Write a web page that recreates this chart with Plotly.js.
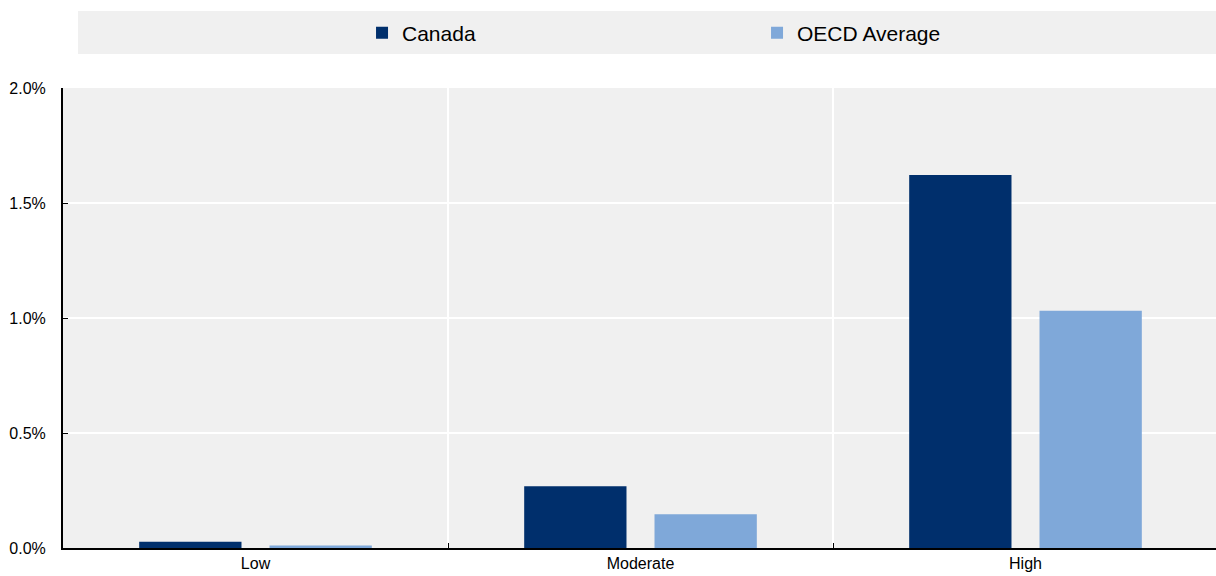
<!DOCTYPE html>
<html>
<head>
<meta charset="utf-8">
<script src="https://cdn.plot.ly/plotly-3.0.1.min.js"></script>
<style>
  html, body { margin: 0; padding: 0; background: #ffffff; overflow: hidden; }
  #chart { width: 1218px; height: 576px; }
</style>
</head>
<body>
<div id="chart"></div>
<script>
// Share by exposure level (%)
var categories = ["Low", "Moderate", "High"];
var canadaValues = [0.027, 0.268, 1.622];
var oecdValues = [0.011, 0.147, 1.032];
var seriesNames = ["Canada", "OECD Average"];
var yTicks = [0, 0.5, 1.0, 1.5, 2.0];

var FONT = '"Liberation Sans Narrow", "Arial Narrow", "Liberation Sans", Arial, sans-serif';

var traces = [
  {
    type: "bar",
    name: seriesNames[0],
    x: categories,
    y: canadaValues,
    marker: { color: "#002f6c" },
    hoverinfo: "x+y+name"
  },
  {
    type: "bar",
    name: seriesNames[1],
    x: categories,
    y: oecdValues,
    marker: { color: "#7fa8d9" },
    hoverinfo: "x+y+name"
  }
];

var layout = {
  width: 1218,
  height: 576,
  margin: { l: 63, r: 0, t: 88, b: 28, pad: 0 },
  paper_bgcolor: "#ffffff",
  plot_bgcolor: "#f0f0f0",
  font: { family: FONT, size: 16, color: "#000000" },
  barmode: "group",
  bargap: 0.323,
  bargroupgap: 0.215,
  showlegend: true,
  legend: {
    orientation: "h",
    x: 0.2589,
    xanchor: "left",
    y: 1.1196,
    yanchor: "middle",
    bgcolor: "rgba(0,0,0,0)",
    borderwidth: 0,
    font: { family: FONT, size: 21, color: "#000000" },
    entrywidth: 350,
    entrywidthmode: "pixels",
    itemclick: false,
    itemdoubleclick: false
  },
  xaxis: {
    type: "category",
    showline: true,
    linecolor: "#000000",
    linewidth: 2,
    showgrid: true,
    gridcolor: "#ffffff",
    gridwidth: 2,
    tickson: "boundaries",
    ticks: "inside",
    ticklen: 5,
    tickwidth: 1,
    tickcolor: "#000000",
    tickfont: { family: FONT, size: 16, color: "#000000" },
    fixedrange: true
  },
  yaxis: {
    range: [0, 2],
    tickvals: yTicks,
    ticktext: yTicks.map(function (v) { return v.toFixed(1) + "%"; }),
    showline: true,
    linecolor: "#000000",
    linewidth: 2,
    showgrid: true,
    gridcolor: "#ffffff",
    gridwidth: 2,
    zeroline: false,
    ticks: "inside",
    ticklen: 5,
    tickwidth: 1,
    tickcolor: "#000000",
    ticklabelstandoff: 12,
    tickfont: { family: FONT, size: 16, color: "#000000" },
    fixedrange: true
  },
  shapes: [
    {
      type: "rect",
      xref: "paper",
      yref: "paper",
      x0: 0.013,
      x1: 1.01,
      y0: 1.0739,
      y1: 1.1674,
      fillcolor: "#f0f0f0",
      line: { width: 0 },
      layer: "below"
    }
  ]
};

Plotly.newPlot("chart", traces, layout, { displayModeBar: false, staticPlot: false });
</script>
</body>
</html>
